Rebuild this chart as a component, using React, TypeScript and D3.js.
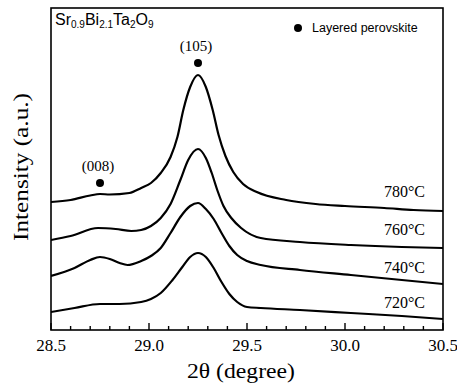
import React from 'react';
import * as d3 from 'd3';

// 2theta (deg) and intensity (a.u., offset per curve)
const theta780 = [28.5, 28.6, 28.7, 28.75, 28.8, 28.9, 28.96, 29.01, 29.06, 29.11, 29.145, 29.175, 29.21, 29.25, 29.29, 29.325, 29.355, 29.39, 29.43, 29.48, 29.55, 29.7, 29.85, 30.0, 30.2, 30.35, 30.5];
const int780 = [128, 130, 134.5, 136, 135.5, 137, 142, 147, 157, 173, 193, 220, 243, 255, 243, 220, 195, 174, 158, 146, 138, 130, 126, 124, 122, 120, 119];

const theta760 = [28.5, 28.6, 28.74, 28.83, 28.91, 28.96, 29.01, 29.06, 29.11, 29.16, 29.2, 29.25, 29.29, 29.32, 29.35, 29.38, 29.42, 29.47, 29.57, 29.77, 30.03, 30.29, 30.5];
const int760 = [90, 94, 102, 101, 99, 100, 104, 112, 126, 150, 170, 181, 172, 157, 139, 124, 112, 102, 92, 88, 85, 83, 82];

const theta740 = [28.5, 28.62, 28.7, 28.75, 28.8, 28.85, 28.89, 28.96, 29.01, 29.06, 29.11, 29.16, 29.21, 29.25, 29.29, 29.33, 29.37, 29.41, 29.45, 29.5, 29.57, 29.77, 30.03, 30.29, 30.5];
const int740 = [54, 62, 70, 73, 71, 67, 65, 69, 74, 82, 97, 113, 124, 127, 121, 111, 97, 84, 75, 69, 65, 60, 55, 50, 46];

const theta720 = [28.5, 28.62, 28.75, 28.85, 28.96, 29.01, 29.06, 29.12, 29.17, 29.21, 29.25, 29.29, 29.33, 29.37, 29.41, 29.45, 29.5, 29.57, 29.77, 30.03, 30.29, 30.5];
const int720 = [18, 22, 26, 26, 28, 31, 37, 50, 63, 73, 77, 73, 62, 48, 36, 28, 23, 22, 20, 17, 14, 11];

const curveLabels = ['780°C', '760°C', '740°C', '720°C'];
const labelIntensity = [133, 95, 57, 22];

const xTicks = [28.5, 29.0, 29.5, 30.0, 30.5];
const peaks = [
  { label: '(105)', theta: 29.25, intensity: 267 },
  { label: '(008)', theta: 28.75, intensity: 147 },
];

const W = 457, H = 385;
const left = 51, right = 443, top = 8, bottom = 330;

export default function App() {
  const x = d3.scaleLinear().domain([28.5, 30.5]).range([left, right]);
  const y = d3.scaleLinear().domain([0, 322]).range([bottom, top]);
  const line = d3.line<[number, number]>()
    .x(d => x(d[0]))
    .y(d => y(d[1]))
    .curve(d3.curveMonotoneX);

  const series = [
    [theta780, int780],
    [theta760, int760],
    [theta740, int740],
    [theta720, int720],
  ].map(([t, v]) => t.map((tt, i) => [tt, v[i]] as [number, number]));

  const minorTicks = d3.range(0, 21).map(i => 28.5 + i * 0.1);
  const serif = 'Liberation Serif, Times New Roman, serif';
  const sans = 'Liberation Sans, Arial, sans-serif';

  return (
    <svg width={W} height={H} style={{ position: 'absolute', left: 0, top: 0, background: '#fff' }}>
      <rect x={0} y={0} width={W} height={H} fill="#fff" />
      <defs>
        <clipPath id="plot">
          <rect x={left} y={top} width={right - left} height={bottom - top} />
        </clipPath>
      </defs>
      <g clipPath="url(#plot)">
        {series.map((s, i) => (
          <path key={i} d={line(s) || ''} fill="none" stroke="#000" strokeWidth={2.2} strokeLinejoin="round" />
        ))}
      </g>
      <rect x={left} y={top} width={right - left} height={bottom - top} fill="none" stroke="#000" strokeWidth={1.6} />
      {minorTicks.map((t, i) => {
        const major = Math.abs((t * 2) - Math.round(t * 2)) < 1e-6;
        return <line key={i} x1={x(t)} x2={x(t)} y1={bottom} y2={bottom - (major ? 7 : 4)} stroke="#000" strokeWidth={1.4} />;
      })}
      {xTicks.map(t => (
        <text key={t} x={x(t)} y={351} textAnchor="middle" fontFamily={serif} fontSize={17}>{t.toFixed(1)}</text>
      ))}
      <text x={241} y={378} textAnchor="middle" fontFamily={serif} fontSize={20} textLength={108} lengthAdjust="spacingAndGlyphs">2θ (degree)</text>
      <text transform="translate(28,167) rotate(-90)" textAnchor="middle" fontFamily={serif} fontSize={20} textLength={148} lengthAdjust="spacingAndGlyphs">Intensity (a.u.)</text>

      {curveLabels.map((l, i) => (
        <text key={l} x={425} y={y(labelIntensity[i])} textAnchor="end" fontFamily={serif} fontSize={16}>{l}</text>
      ))}

      {peaks.map(p => (
        <g key={p.label}>
          <circle cx={x(p.theta)} cy={y(p.intensity)} r={4} fill="#000" />
          <text x={x(p.theta) - 2} y={y(p.intensity) - 12} textAnchor="middle" fontFamily={serif} fontSize={15}>{p.label}</text>
        </g>
      ))}

      <text x={55} y={25} fontFamily={sans} fontSize={16}>
        Sr<tspan fontSize={10} dy={3}>0.9</tspan>
        <tspan dy={-3}>Bi</tspan><tspan fontSize={10} dy={3}>2.1</tspan>
        <tspan dy={-3}>Ta</tspan><tspan fontSize={10} dy={3}>2</tspan>
        <tspan dy={-3}>O</tspan><tspan fontSize={10} dy={3}>9</tspan>
      </text>

      <circle cx={298} cy={28} r={4} fill="#000" />
      <text x={312} y={32} fontFamily={sans} fontSize={12.5}>Layered perovskite</text>
    </svg>
  );
}
